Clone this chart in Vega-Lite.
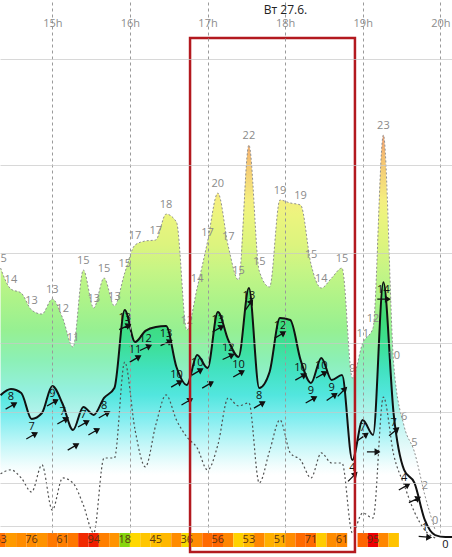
{
  "$schema": "https://vega.github.io/schema/vega-lite/v6.json",
  "width": 452,
  "height": 533,
  "autosize": {"type": "none"},
  "padding": {"left": 0, "top": 0, "right": 0, "bottom": 24},
  "background": "white",
  "config": {"view": {"stroke": null}, "font": "Open Sans"},
  "datasets": {
    "pts": [
      {"t": 20, "g": 15.33, "s": 8.01, "m": 3.48, "gl": "15", "cl": "63"},
      {"t": 28, "g": 14.12, "s": 8.36, "m": 3.71, "gl": "14", "sl": "8", "dir": 60},
      {"t": 36, "g": 13.89, "s": 8.13, "m": 3.24},
      {"t": 44, "g": 12.91, "s": 6.64, "m": 2.43, "gl": "13", "sl": "7", "dir": 60, "cl": "76"},
      {"t": 52, "g": 12.68, "s": 6.98, "m": 3.99},
      {"t": 60, "g": 13.55, "s": 8.54, "m": 1.39, "gl": "13", "sl": "9", "dir": 60},
      {"t": 68, "g": 12.45, "s": 7.5, "m": 3.24, "gl": "12", "sl": "7", "dir": 60, "cl": "61"},
      {"t": 76, "g": 10.78, "s": 6.0, "m": 2.95, "gl": "11", "dir": 60},
      {"t": 84, "g": 15.22, "s": 7.33, "m": 1.68, "gl": "15", "sl": "7", "dir": 60},
      {"t": 92, "g": 13.03, "s": 6.87, "m": 0.07, "gl": "13", "dir": 60, "cl": "94"},
      {"t": 100, "g": 14.76, "s": 7.85, "m": 4.39, "gl": "15", "sl": "8", "dir": 60},
      {"t": 108, "g": 13.15, "s": 8.42, "m": 4.39, "gl": "13"},
      {"t": 116, "g": 15.05, "s": 12.91, "m": 9.92, "gl": "15", "sl": "13", "dir": 65, "cl": "18"},
      {"t": 124, "g": 16.66, "s": 11.07, "m": 6.0, "gl": "17", "sl": "11", "dir": 60},
      {"t": 132, "g": 16.89, "s": 11.71, "m": 3.88, "sl": "12", "dir": 65},
      {"t": 140, "g": 16.95, "s": 11.94, "m": 6.29, "gl": "17", "cl": "45"},
      {"t": 148, "g": 18.44, "s": 11.99, "m": 8.02, "gl": "18", "sl": "13", "dir": 65},
      {"t": 156, "g": 17.98, "s": 9.63, "m": 6.58, "sl": "10", "dir": 60},
      {"t": 164, "g": 11.76, "s": 8.6, "m": 5.6, "gl": "12", "dir": 60, "cl": "36"},
      {"t": 172, "g": 14.18, "s": 10.32, "m": 4.97, "gl": "14", "sl": "10", "dir": 60},
      {"t": 180, "g": 16.84, "s": 9.57, "m": 3.7, "gl": "17", "dir": 60},
      {"t": 188, "g": 19.65, "s": 12.8, "m": 5.14, "gl": "20", "sl": "13", "dir": 60, "cl": "56"},
      {"t": 196, "g": 16.6, "s": 11.19, "m": 7.85, "gl": "17", "sl": "12", "dir": 65},
      {"t": 204, "g": 14.64, "s": 10.21, "m": 7.39, "gl": "15", "sl": "10", "dir": 60},
      {"t": 212, "g": 22.42, "s": 14.18, "m": 7.56, "gl": "22", "sl": "13", "dir": 35, "cl": "53"},
      {"t": 220, "g": 15.16, "s": 8.42, "m": 2.95, "gl": "15", "sl": "8", "dir": 60},
      {"t": 228, "g": 14.24, "s": 9.34, "m": 4.79},
      {"t": 236, "g": 19.25, "s": 12.45, "m": 6.58, "gl": "19", "sl": "12", "dir": 60, "cl": "51"},
      {"t": 244, "g": 19.08, "s": 12.34, "m": 4.68},
      {"t": 252, "g": 18.96, "s": 10.03, "m": 4.27, "gl": "19", "sl": "10", "dir": 60},
      {"t": 260, "g": 15.56, "s": 8.71, "m": 3.24, "gl": "15", "sl": "9", "dir": 60, "cl": "71"},
      {"t": 268, "g": 14.18, "s": 10.15, "m": 4.68, "gl": "14", "sl": "10", "dir": 60},
      {"t": 276, "g": 14.76, "s": 8.88, "m": 4.1, "sl": "9", "dir": 55},
      {"t": 284, "g": 15.33, "s": 9.17, "m": 4.1, "gl": "15", "dir": 45, "cl": "61"},
      {"t": 292, "g": 9.0, "s": 4.27, "m": 0.07, "gl": "9", "sl": "4", "dir": 45},
      {"t": 300, "g": 11.01, "s": 6.58, "m": 1.22, "gl": "11", "sl": "7", "dir": 55},
      {"t": 308, "g": 11.88, "s": 5.72, "m": 0.93, "gl": "12", "dir": 90, "cl": "95"},
      {"t": 316, "g": 23.0, "s": 14.52, "m": 7.9, "gl": "23", "sl": "14", "dir": 90},
      {"t": 324, "g": 9.75, "s": 6.87, "m": 4.56, "gl": "10", "sl": "7", "dir": 50},
      {"t": 332, "g": 6.23, "s": 3.7, "m": 2.84, "gl": "6", "sl": "4", "dir": 60},
      {"t": 340, "g": 4.74, "s": 2.95, "m": 1.28, "gl": "5", "dir": 65},
      {"t": 348, "g": 2.26, "s": 0.82, "m": 0.24, "gl": "2", "sl": "1", "dir": 95},
      {"t": 356, "g": 0.24, "s": -0.05, "m": -0.22, "gl": "0"},
      {"t": 364, "g": null, "s": -0.16, "m": null, "sl": "0"},
      {"t": 372, "g": null, "s": -0.16, "m": null}
    ],
    "cells": [
      {"t0": 16, "t1": 24, "c": 68}, {"t0": 24, "t1": 32, "c": 56}, {"t0": 32, "t1": 40, "c": 60},
      {"t0": 40, "t1": 48, "c": 60}, {"t0": 48, "t1": 56, "c": 58}, {"t0": 56, "t1": 64, "c": 66},
      {"t0": 64, "t1": 72, "c": 64}, {"t0": 72, "t1": 80, "c": 66}, {"t0": 80, "t1": 88, "c": 90},
      {"t0": 88, "t1": 96, "c": 92}, {"t0": 96, "t1": 104, "c": 64}, {"t0": 104, "t1": 112, "c": 58},
      {"t0": 112, "t1": 120, "c": 18}, {"t0": 120, "t1": 128, "c": 38}, {"t0": 128, "t1": 136, "c": 44},
      {"t0": 136, "t1": 144, "c": 46}, {"t0": 144, "t1": 152, "c": 48}, {"t0": 152, "t1": 160, "c": 60},
      {"t0": 160, "t1": 168, "c": 36}, {"t0": 168, "t1": 176, "c": 60}, {"t0": 176, "t1": 184, "c": 70},
      {"t0": 184, "t1": 192, "c": 72}, {"t0": 192, "t1": 200, "c": 62}, {"t0": 200, "t1": 208, "c": 40},
      {"t0": 208, "t1": 216, "c": 48}, {"t0": 216, "t1": 224, "c": 62}, {"t0": 224, "t1": 232, "c": 50},
      {"t0": 232, "t1": 240, "c": 50}, {"t0": 240, "t1": 248, "c": 60}, {"t0": 248, "t1": 256, "c": 70},
      {"t0": 256, "t1": 264, "c": 70}, {"t0": 264, "t1": 272, "c": 42}, {"t0": 272, "t1": 280, "c": 60},
      {"t0": 280, "t1": 288, "c": 62},
      {"t0": 296, "t1": 304, "c": 72}, {"t0": 304, "t1": 312, "c": 95}, {"t0": 312, "t1": 320, "c": 62},
      {"t0": 320, "t1": 328, "c": 45}
    ],
    "box": [{"t0": 166.5, "t1": 294.0, "lo": -1.03, "hi": 28.58}]
  },
  "layer": [
    {
      "data": {"name": "pts"},
      "mark": {
        "type": "area", "interpolate": "monotone",
        "fill": {
          "gradient": "linear", "x1": 0, "y1": 0, "x2": 0, "y2": 1,
          "stops": [
            {"offset": 0, "color": "#f0a070"},
            {"offset": 0.063, "color": "#f5c472"},
            {"offset": 0.163, "color": "#f4ee80"},
            {"offset": 0.2, "color": "#ecf47e"},
            {"offset": 0.276, "color": "#dcf47e"},
            {"offset": 0.338, "color": "#c6f585"},
            {"offset": 0.414, "color": "#adf389"},
            {"offset": 0.489, "color": "#96f092"},
            {"offset": 0.564, "color": "#8cf0b6"},
            {"offset": 0.639, "color": "#94f0de"},
            {"offset": 0.714, "color": "#bcf4f0"},
            {"offset": 0.789, "color": "#e8fafa"},
            {"offset": 0.84, "color": "#ffffff"},
            {"offset": 1, "color": "#ffffff"}
          ]
        }
      },
      "encoding": {
        "x": {
          "field": "t", "type": "quantitative",
          "scale": {"domain": [19.56, 369.04], "nice": false, "zero": false},
          "axis": {
            "orient": "top", "values": [60, 120, 180, 240, 300, 360],
            "labelExpr": "(datum.value / 60 + 14) + 'h'",
            "grid": true, "gridDash": [3, 3], "gridColor": "#9a9a9a", "gridWidth": 1,
            "ticks": false, "domain": false,
            "labelColor": "#8c8c8c", "labelFontSize": 11, "labelFont": "Open Sans",
            "labelPadding": -26, "labelBaseline": "alphabetic", "labelFlush": false, "labelOverlap": false,
            "title": "Вт 27.6.", "titleX": 285, "titleY": 13, "titleAlign": "center",
            "titleBaseline": "alphabetic", "titleFontSize": 12, "titleFontWeight": "normal",
            "titleColor": "#222222", "titleFont": "Open Sans", "zindex": 1
          }
        },
        "y": {
          "field": "g", "type": "quantitative",
          "scale": {"domain": [0.069, 30.772], "nice": false, "zero": false},
          "axis": {
            "orient": "left", "values": [0.47, 2.95, 7.04, 11.0, 16.19, 21.26, 27.37],
            "grid": true, "gridColor": "#c8c8c8", "gridOpacity": 0.7,
            "labels": false, "ticks": false, "domain": false, "title": null, "zindex": 1
          }
        },
        "y2": {"datum": 0}
      }
    },
    {
      "data": {"name": "pts"},
      "mark": {
        "type": "area", "interpolate": "monotone",
        "fill": {
          "gradient": "linear", "x1": 0, "y1": 0, "x2": 0, "y2": 1,
          "stops": [
            {"offset": 0, "color": "#66e26a"},
            {"offset": 0.07, "color": "#4ddd72"},
            {"offset": 0.149, "color": "#3edb7a"},
            {"offset": 0.247, "color": "#3ddf96"},
            {"offset": 0.345, "color": "#42e2c0"},
            {"offset": 0.443, "color": "#52e6de"},
            {"offset": 0.541, "color": "#86eef0"},
            {"offset": 0.639, "color": "#c4f7f8"},
            {"offset": 0.718, "color": "#f0fdfd"},
            {"offset": 0.757, "color": "#ffffff"},
            {"offset": 1, "color": "#ffffff"}
          ]
        }
      },
      "encoding": {
        "x": {"field": "t", "type": "quantitative"},
        "y": {"field": "s", "type": "quantitative"},
        "y2": {"datum": 0}
      }
    },
    {
      "data": {"name": "pts"},
      "mark": {"type": "line", "interpolate": "monotone", "stroke": "#909090", "strokeWidth": 1, "strokeDash": [2, 2]},
      "encoding": {
        "x": {"field": "t", "type": "quantitative"},
        "y": {"field": "g", "type": "quantitative"}
      }
    },
    {
      "data": {"name": "pts"},
      "mark": {"type": "line", "interpolate": "monotone", "stroke": "#505050", "strokeWidth": 1.2, "strokeDash": [2, 2.5]},
      "encoding": {
        "x": {"field": "t", "type": "quantitative"},
        "y": {"field": "m", "type": "quantitative"}
      }
    },
    {
      "data": {"name": "pts"},
      "mark": {"type": "line", "interpolate": "monotone", "stroke": "#111111", "strokeWidth": 2},
      "encoding": {
        "x": {"field": "t", "type": "quantitative"},
        "y": {"field": "s", "type": "quantitative"}
      }
    },
    {
      "data": {"name": "cells"},
      "mark": {"type": "rect"},
      "encoding": {
        "x": {"field": "t0", "type": "quantitative"},
        "x2": {"field": "t1"},
        "y": {"datum": 0.069},
        "y2": {"datum": -0.737},
        "color": {
          "field": "c", "type": "quantitative",
          "scale": {
            "domain": [18, 30, 38, 46, 52, 60, 70, 92],
            "range": ["#86d50e", "#d8e400", "#ffd800", "#ffc000", "#ffa800", "#ff8c00", "#ff6a00", "#f01e00"]
          },
          "legend": null
        }
      }
    },
    {
      "data": {"name": "pts"},
      "transform": [{"filter": "datum.cl != null"}],
      "mark": {"type": "text", "fontSize": 11, "font": "Open Sans", "color": "#5b3410", "baseline": "middle"},
      "encoding": {
        "x": {"field": "t", "type": "quantitative"},
        "y": {"datum": -0.33},
        "text": {"field": "cl"}
      }
    },
    {
      "data": {"name": "pts"},
      "transform": [{"filter": "datum.gl != null"}],
      "mark": {"type": "text", "fontSize": 11, "font": "Open Sans", "color": "#8a8a8a", "baseline": "middle", "dy": -9},
      "encoding": {
        "x": {"field": "t", "type": "quantitative"},
        "y": {"field": "g", "type": "quantitative"},
        "text": {"field": "gl"}
      }
    },
    {
      "data": {"name": "pts"},
      "transform": [{"filter": "datum.sl != null"}],
      "mark": {"type": "text", "fontSize": 11, "font": "Open Sans", "color": "#111111", "baseline": "middle", "dy": 8},
      "encoding": {
        "x": {"field": "t", "type": "quantitative"},
        "y": {"field": "s", "type": "quantitative"},
        "text": {"field": "sl"}
      }
    },
    {
      "data": {"name": "pts"},
      "transform": [{"filter": "datum.dir != null"}],
      "mark": {
        "type": "point", "shape": "M0,1L0,-0.45M0,-1L-0.4,-0.35L0.4,-0.35Z",
        "filled": true, "fill": "#111111", "stroke": "#111111", "strokeWidth": 1.3,
        "size": 150, "opacity": 1, "yOffset": 17
      },
      "encoding": {
        "x": {"field": "t", "type": "quantitative"},
        "y": {"field": "s", "type": "quantitative"},
        "angle": {"field": "dir", "type": "quantitative", "scale": null}
      }
    },
    {
      "data": {"name": "box"},
      "mark": {"type": "rect", "fillOpacity": 0, "stroke": "#b3191f", "strokeWidth": 2.5},
      "encoding": {
        "x": {"field": "t0", "type": "quantitative"},
        "x2": {"field": "t1"},
        "y": {"field": "hi", "type": "quantitative"},
        "y2": {"field": "lo"}
      }
    }
  ]
}
